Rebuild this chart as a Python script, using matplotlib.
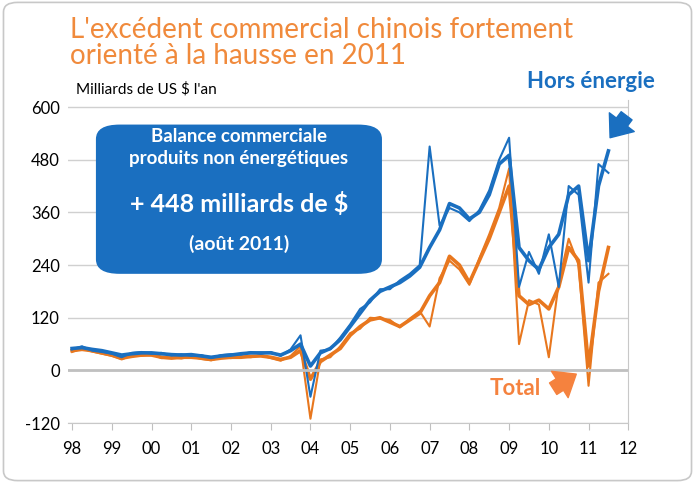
import numpy as np
import matplotlib.pyplot as plt
from matplotlib.patches import FancyBboxPatch

plt.rcParams['font.family'] = 'Lato'

# quarterly points, 1998Q1 .. 2011Q3
blue_smooth = [50, 52, 48, 45, 40, 35, 38, 40, 40, 38, 36, 35, 36, 33, 30, 33,
               35, 38, 40, 40, 40, 35, 45, 60, 10, 40, 50, 70, 100, 130, 160, 180,
               190, 200, 215, 235, 280, 320, 380, 370, 345, 360, 400, 470,
               490, 280, 250, 230, 280, 310, 400, 420, 250, 420, 500]
blue_thin = [48, 55, 45, 42, 38, 30, 40, 42, 38, 40, 34, 37, 33, 35, 28, 35,
             37, 36, 42, 38, 42, 33, 48, 80, -60, 45, 48, 75, 105, 140, 155, 185,
             185, 205, 220, 240, 510, 330, 370, 360, 340, 365, 410, 480,
             530, 190, 270, 220, 310, 190, 420, 400, 200, 470, 450]
orange_smooth = [45, 48, 45, 40, 35, 28, 32, 35, 35, 30, 28, 30, 30, 28, 25, 28,
                 30, 30, 32, 33, 30, 25, 30, 45, -20, 20, 35, 50, 80, 100, 115, 120,
                 110, 100, 115, 130, 170, 200, 260, 240, 200, 250, 300, 360,
                 420, 170, 150, 160, 140, 190, 280, 250, 10, 180, 280]
orange_thin = [42, 50, 43, 38, 33, 25, 35, 33, 37, 28, 30, 27, 32, 26, 23, 30,
               28, 32, 30, 35, 28, 22, 33, 55, -110, 25, 30, 55, 85, 95, 120, 118,
               115, 98, 118, 135, 100, 210, 250, 230, 195, 255, 310, 370,
               460, 60, 160, 150, 30, 200, 300, 240, -35, 200, 220]
years = 1998 + np.arange(len(blue_smooth)) / 4

yticks = [-120, 0, 120, 240, 360, 480, 600]
xlabels = ['98', '99', '00', '01', '02', '03', '04', '05', '06', '07', '08', '09', '10', '11', '12']

blue = '#1a6fc0'
orange = '#e8771e'

fig = plt.figure(figsize=(6.95, 4.83), dpi=100)
fig.patches.append(FancyBboxPatch((0.005, 0.005), 0.99, 0.99, boxstyle='round,pad=0,rounding_size=0.02',
                                  transform=fig.transFigure, fill=False, ec='#c8c8c8', lw=1.2))
ax = fig.add_axes([0.098, 0.124, 0.806, 0.669])

ax.plot(years, orange_thin, color=orange, lw=1.5)
ax.plot(years, orange_smooth, color=orange, lw=2.6)
ax.plot(years, blue_thin, color=blue, lw=1.5)
ax.plot(years, blue_smooth, color=blue, lw=2.6)

ax.set_xlim(1997.9, 2012.0)
ax.set_ylim(-120, 616)
ax.set_yticks(yticks)
ax.set_yticklabels([str(v) for v in yticks], fontsize=12)
ax.set_xticks(range(1998, 2013))
ax.set_xticklabels(xlabels, fontsize=12)
ax.set_xticks(range(2004, 2013, 2), minor=True)
ax.grid(axis='y', color='#d0d0d0', lw=1)
ax.grid(axis='x', which='minor', color='#d0d0d0', lw=1)
ax.axhline(0, color='#c0c0c0', lw=2)
ax.tick_params(axis='y', length=0, pad=6)
ax.tick_params(axis='x', which='major', length=5, color='#c0c0c0', pad=8)
ax.tick_params(axis='x', which='minor', length=0)
for s in ax.spines.values():
    s.set_color('#c8c8c8')
ax.spines['top'].set_visible(False)
ax.spines['left'].set_visible(False)

fig.text(0.1, 0.965, "L'excédent commercial chinois fortement\norienté à la hausse en 2011",
         color='#f08a3c', fontsize=20, va='top', linespacing=1.0)
fig.text(0.11, 0.8, "Milliards de US $ l'an", fontsize=11, va='bottom')

box = FancyBboxPatch((1998.6, 220), 7.2, 340, boxstyle='round,pad=0,rounding_size=0.6',
                     mutation_aspect=55, fc=blue, ec='none', zorder=5)
ax.add_patch(box)
ax.text(2002.2, 532, 'Balance commerciale', color='white',
        fontsize=13.5, fontweight='bold', ha='center', va='center', zorder=6)
ax.text(2002.2, 482, 'produits non énergétiques', color='white',
        fontsize=13.5, fontweight='bold', ha='center', va='center', zorder=6)
ax.text(2002.2, 378, '+ 448 milliards de $', color='white', fontsize=18,
        fontweight='bold', ha='center', va='center', zorder=6)
ax.text(2002.2, 288, '(août 2011)', color='white', fontsize=14,
        fontweight='bold', ha='center', va='center', zorder=6)

fig.text(0.942, 0.818, 'Hors énergie', color=blue, fontsize=16, fontweight='bold', ha='right')
ax.annotate('', xy=(2011.5, 525), xytext=(2012.0, 585), annotation_clip=False,
            arrowprops=dict(arrowstyle='simple,head_width=1.6,head_length=1.0,tail_width=0.7',
                            mutation_scale=14, color=blue))
ax.text(2009.8, -42, 'Total', color='#f5823e', fontsize=16, fontweight='bold', ha='right', va='center')
ax.annotate('', xy=(2010.75, -5), xytext=(2010.05, -45),
            arrowprops=dict(arrowstyle='simple,head_width=1.6,head_length=1.0,tail_width=0.7',
                            mutation_scale=14, color='#f5823e'))

plt.savefig('out.png')
